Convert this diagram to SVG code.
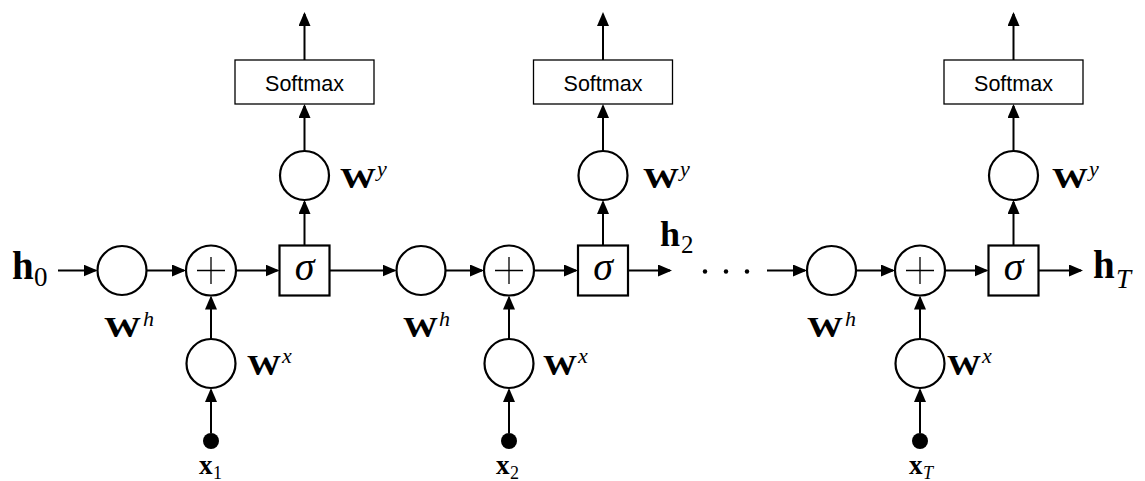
<svg xmlns="http://www.w3.org/2000/svg" width="1145" height="481" viewBox="0 0 1145 481">
<style>
.ln{stroke:#000;stroke-width:2;fill:none}
.nd{fill:#fff;stroke:#000;stroke-width:2.2}
.sm{fill:#fff;stroke:#000;stroke-width:1.3}
.pl{stroke:#000;stroke-width:1.3}
.dot{fill:#000}
.smt{font-family:"Liberation Sans",Arial,sans-serif;font-size:21.5px;text-anchor:middle;fill:#000}
.sig{font-family:"Liberation Serif","Times New Roman",serif;font-style:italic;font-size:40px;text-anchor:middle;fill:#000}
.hb{font-family:"Liberation Serif","Times New Roman",serif;font-weight:bold;font-size:39px;fill:#000}
.sub{font-family:"Liberation Serif","Times New Roman",serif;font-weight:normal;font-size:27px}
.subi{font-family:"Liberation Serif","Times New Roman",serif;font-weight:normal;font-style:italic;font-size:27px}
.W{font-family:"Liberation Serif","Times New Roman",serif;font-weight:bold;font-size:30px;fill:#000}
.sup{font-family:"Liberation Serif","Times New Roman",serif;font-weight:normal;font-style:italic;font-size:22px}
.xb{font-family:"Liberation Serif","Times New Roman",serif;font-weight:bold;font-size:27px;fill:#000}
.xs{font-family:"Liberation Serif","Times New Roman",serif;font-weight:normal;font-size:18px}
.xsi{font-family:"Liberation Serif","Times New Roman",serif;font-weight:normal;font-style:italic;font-size:18px}
</style>
<defs>
<marker id="ah" markerUnits="userSpaceOnUse" markerWidth="14" markerHeight="12" viewBox="0 0 14 12" refX="12" refY="6" orient="auto">
<path d="M0,0 L14,6 L0,12 z" fill="#000"/>
</marker>
</defs>

<g id="connectors" class="ln" marker-end="url(#ah)">
<path d="M58,270.5 H95.5"/>
<path d="M146.5,270.5 H184"/>
<path d="M236,270.5 H277.5"/>
<path d="M329.5,270.5 H394.5"/>
<path d="M445.5,270.5 H482"/>
<path d="M534,270.5 H576"/>
<path d="M628,270.5 H670"/>
<path d="M767,270.5 H805"/>
<path d="M856,270.5 H893"/>
<path d="M945,270.5 H986.5"/>
<path d="M1038.5,270.5 H1081"/>
<path d="M211,433 V390"/>
<path d="M211,339 V297.5"/>
<path d="M509,433 V390"/>
<path d="M509,339 V297.5"/>
<path d="M920,433 V390"/>
<path d="M920,339 V297.5"/>
<path d="M304.5,245.5 V202"/>
<path d="M304.5,151 V106"/>
<path d="M304.5,60 V14"/>
<path d="M603,245.5 V202"/>
<path d="M603,151 V106"/>
<path d="M603,60 V14"/>
<path d="M1013.5,245.5 V202"/>
<path d="M1013.5,151 V106"/>
<path d="M1013.5,60 V14"/>
</g>

<g id="h0"><text class="hb" x="12" y="279">h<tspan class="sub" x="34" y="286">0</tspan></text></g>

<!-- block 1 -->
<g id="wh1"><circle class="nd" cx="122" cy="270.5" r="24.5"/><text class="W" x="104" y="337" textLength="37" lengthAdjust="spacingAndGlyphs">W</text><text class="sup" x="143" y="326">h</text></g>
<g id="plus1"><circle class="nd" cx="211" cy="270.5" r="25"/><path class="pl" d="M197,270.5 H225 M211,257 V284"/></g>
<g id="sigma1"><rect class="nd" x="279.5" y="245.5" width="50" height="50"/><text class="sig" x="304.5" y="280">σ</text></g>
<g id="wx1"><circle class="nd" cx="211" cy="363.5" r="24.5"/><text class="W" x="247" y="375" textLength="34" lengthAdjust="spacingAndGlyphs">W</text><text class="sup" x="282" y="363">x</text></g>
<g id="x1"><circle class="dot" cx="211" cy="441" r="8"/><text class="xb" x="199" y="474">x<tspan class="xs" x="213" y="479">1</tspan></text></g>
<g id="wy1"><circle class="nd" cx="304.5" cy="175.5" r="24.5"/><text class="W" x="340" y="188" textLength="36" lengthAdjust="spacingAndGlyphs">W</text><text class="sup" x="377" y="176">y</text></g>
<g id="softmax1"><rect class="sm" x="235" y="60" width="139" height="44"/><text class="smt" x="304.5" y="91">Softmax</text></g>

<!-- block 2 -->
<g id="wh2"><circle class="nd" cx="421" cy="270.5" r="24.5"/><text class="W" x="403" y="337" textLength="35" lengthAdjust="spacingAndGlyphs">W</text><text class="sup" x="439" y="326">h</text></g>
<g id="plus2"><circle class="nd" cx="509" cy="270.5" r="25"/><path class="pl" d="M495,270.5 H523 M509,257 V284"/></g>
<g id="sigma2"><rect class="nd" x="578" y="245.5" width="50" height="50"/><text class="sig" x="603" y="280">σ</text></g>
<g id="wx2"><circle class="nd" cx="509" cy="363.5" r="24.5"/><text class="W" x="543" y="375" textLength="34" lengthAdjust="spacingAndGlyphs">W</text><text class="sup" x="578" y="363">x</text></g>
<g id="x2"><circle class="dot" cx="509" cy="441" r="8"/><text class="xb" x="496" y="474">x<tspan class="xs" x="510" y="479">2</tspan></text></g>
<g id="wy2"><circle class="nd" cx="603" cy="175.5" r="24.5"/><text class="W" x="643" y="188" textLength="36" lengthAdjust="spacingAndGlyphs">W</text><text class="sup" x="680" y="176">y</text></g>
<g id="softmax2"><rect class="sm" x="533.5" y="60" width="139" height="44"/><text class="smt" x="603" y="91">Softmax</text></g>
<g id="h2"><text class="hb" x="660" y="246" style="font-size:36px">h<tspan class="sub" x="681" y="253" style="font-size:25px">2</tspan></text></g>
<g id="ellipsis"><circle class="dot" cx="705" cy="271.5" r="2.2"/><circle class="dot" cx="726" cy="271.5" r="2.2"/><circle class="dot" cx="747" cy="271.5" r="2.2"/></g>

<!-- block 3 -->
<g id="wh3"><circle class="nd" cx="831.5" cy="270.5" r="24.5"/><text class="W" x="807" y="337" textLength="36" lengthAdjust="spacingAndGlyphs">W</text><text class="sup" x="845" y="326">h</text></g>
<g id="plus3"><circle class="nd" cx="920" cy="270.5" r="25"/><path class="pl" d="M906,270.5 H934 M920,257 V284"/></g>
<g id="sigma3"><rect class="nd" x="988.5" y="245.5" width="50" height="50"/><text class="sig" x="1013.5" y="280">σ</text></g>
<g id="wx3"><circle class="nd" cx="920" cy="363.5" r="24.5"/><text class="W" x="947" y="375" textLength="34" lengthAdjust="spacingAndGlyphs">W</text><text class="sup" x="982" y="363">x</text></g>
<g id="xT"><circle class="dot" cx="920" cy="441" r="8"/><text class="xb" x="909" y="474">x<tspan class="xsi" x="923" y="479">T</tspan></text></g>
<g id="wy3"><circle class="nd" cx="1013.5" cy="175.5" r="24.5"/><text class="W" x="1052" y="188" textLength="36" lengthAdjust="spacingAndGlyphs">W</text><text class="sup" x="1089" y="176">y</text></g>
<g id="softmax3"><rect class="sm" x="944" y="60" width="139" height="44"/><text class="smt" x="1013.5" y="91">Softmax</text></g>
<g id="hT"><text class="hb" x="1093" y="278">h<tspan class="subi" x="1116" y="288">T</tspan></text></g>
</svg>
